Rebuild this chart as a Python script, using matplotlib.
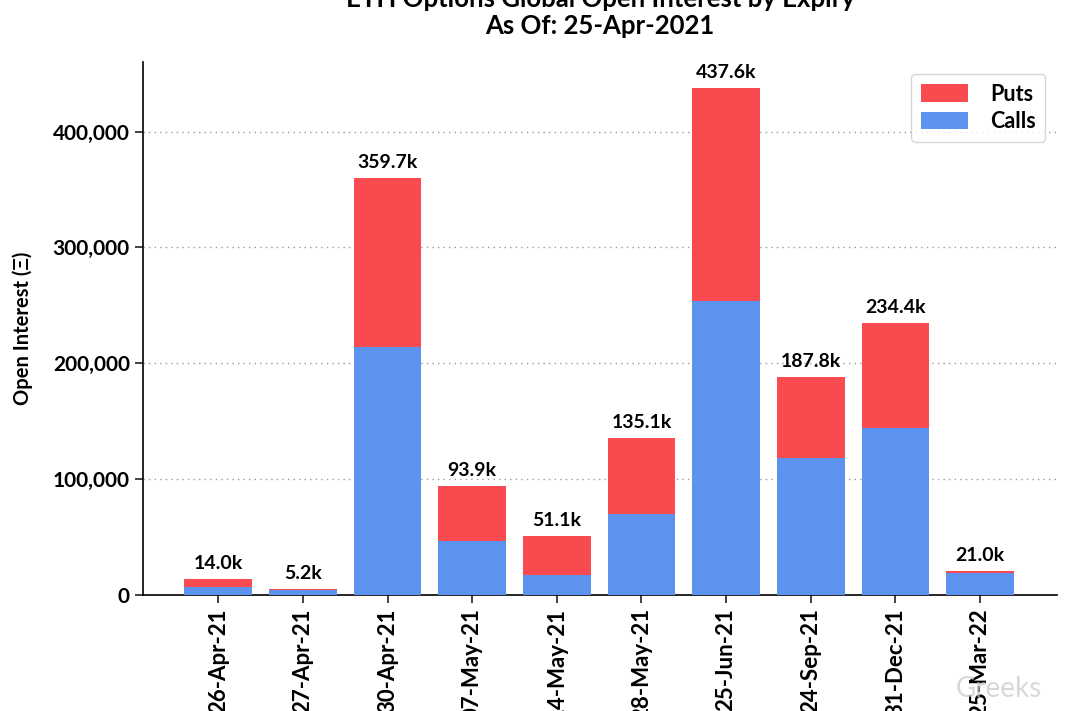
import matplotlib
matplotlib.use("Agg")
import matplotlib.pyplot as plt
from matplotlib.ticker import FuncFormatter

expiries = ["26-Apr-21", "27-Apr-21", "30-Apr-21", "07-May-21", "14-May-21",
            "28-May-21", "25-Jun-21", "24-Sep-21", "31-Dec-21", "25-Mar-22"]
totals = [14.0e3, 5.2e3, 359.7e3, 93.9e3, 51.1e3, 135.1e3, 437.6e3, 187.8e3, 234.4e3, 21.0e3]
calls = [7.0e3, 4.3e3, 214.3e3, 46.7e3, 17.3e3, 70.0e3, 254.0e3, 118.4e3, 144.3e3, 18.7e3]
puts = [t - c for t, c in zip(totals, calls)]
yticks = [0, 100000, 200000, 300000, 400000]

plt.rcParams['font.family'] = ['Lato', 'DejaVu Sans']

RED = "#F94B4F"
BLUE = "#5C93EF"
W = "bold"

fig = plt.figure(figsize=(10.8, 7.11), dpi=100)
ax = fig.add_axes([0.1324, 0.1632, 0.8463, 0.7496])

x = list(range(len(expiries)))
ax.bar(x, calls, width=0.8, color=BLUE, label="Calls", zorder=3)
ax.bar(x, puts, width=0.8, bottom=calls, color=RED, label="Puts", zorder=3)

for xi, t in zip(x, totals):
    ax.annotate(f"{t/1000:.1f}k", (xi, t), xytext=(0, 5), textcoords="offset points",
                ha="center", va="bottom", fontsize=14, fontweight=W, zorder=4)

ax.set_xlim(-0.89, 9.91)
ax.set_ylim(0, 460000)
ax.set_yticks(yticks)
ax.yaxis.set_major_formatter(FuncFormatter(lambda v, p: f"{int(v):,}"))
ax.set_xticks(x)
ax.set_xticklabels(expiries, rotation=90, fontsize=16, fontweight=W)
for lbl in ax.get_yticklabels():
    lbl.set_fontsize(15)
    lbl.set_fontweight(W)

ax.yaxis.grid(True, linestyle=(0, (1, 3)), color="#999999", linewidth=1.0, zorder=0)
ax.spines['top'].set_visible(False)
ax.spines['right'].set_visible(False)
ax.spines['left'].set_linewidth(1.2)
ax.spines['bottom'].set_linewidth(1.2)
ax.tick_params(axis='both', length=6, width=1.2, colors='#222222', labelcolor='black')

ax.set_ylabel("Open Interest (Ξ)", fontsize=14.5, fontweight=W, labelpad=14)

handles, labels = ax.get_legend_handles_labels()
leg = ax.legend(handles[::-1], labels[::-1], loc="upper right", fontsize=15.5,
                frameon=True, fancybox=True, borderpad=0.45, handlelength=2.2,
                handleheight=0.9, labelspacing=0.3, handletextpad=1.0,
                bbox_to_anchor=(0.999, 0.998))
for t in leg.get_texts():
    t.set_fontweight(W)

fig.text(0.5556, 1.018, "ETH Options Global Open Interest by Expiry\nAs Of: 25-Apr-2021",
         ha="center", va="top", fontsize=18.5, fontweight="bold", linespacing=1.15)

fig.text(0.965, 0.012, "Greeks", ha="right", va="bottom", fontsize=20, color="#c8c8c8",
         alpha=0.7, zorder=0)

fig.savefig("out.png", dpi=100)
